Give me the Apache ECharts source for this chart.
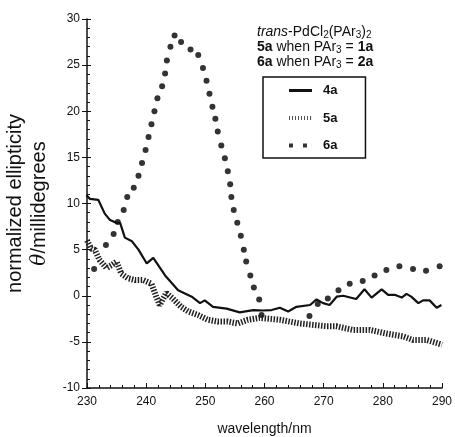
<!DOCTYPE html>
<html>
<head>
<meta charset="utf-8">
<script src="https://cdn.jsdelivr.net/npm/echarts@6/dist/echarts.min.js"></script>
<style>
html,body{margin:0;padding:0;background:#fff;}
#chart{width:455px;height:437px;}
</style>
</head>
<body>
<div id="chart"></div>
<script>
// ---- data ----
const xTicks = [230, 240, 250, 260, 270, 280, 290];
const yTicks = [-10, -5, 0, 5, 10, 15, 20, 25, 30];

const wl4a = [229.9, 230.5, 231.9, 233.0, 233.9, 235.0, 235.6, 236.4, 237.6, 238.7, 240.1, 241.2, 243.2, 245.4, 247.7, 249.1, 249.9, 251.3, 253.6, 255.8, 258.1, 259.8, 261.2, 262.6, 264.0, 265.4, 267.7, 268.8, 269.9, 271.0, 272.2, 273.3, 275.5, 276.9, 278.1, 279.8, 280.9, 282.0, 283.2, 284.0, 284.8, 286.0, 286.8, 287.9, 289.1, 289.9];
const val4a = [10.9, 10.5, 10.4, 8.9, 8.2, 7.9, 7.9, 6.3, 5.9, 5.0, 3.5, 4.1, 2.2, 0.6, -0.1, -0.8, -0.5, -1.2, -1.4, -1.8, -1.55, -1.6, -1.55, -1.3, -1.7, -1.2, -1.0, -0.4, -0.8, -1.0, -0.1, 0.0, -0.35, 0.7, -0.2, 0.7, 0.1, 0.1, -0.2, 0.2, -0.1, -0.8, -0.5, -0.5, -1.3, -1.0];

const wl5a = [230.0, 230.7, 231.3, 232.1, 233.3, 234.1, 235.0, 235.8, 236.9, 238.1, 239.5, 240.9, 241.7, 242.3, 243.4, 244.5, 245.9, 247.1, 248.8, 250.4, 252.1, 253.8, 255.5, 257.2, 259.2, 262.6, 265.9, 270.4, 272.1, 274.9, 277.8, 280.6, 283.4, 285.1, 287.4, 289.0, 290.0];
const val5a = [6.0, 5.1, 5.0, 3.9, 3.0, 3.3, 3.7, 2.4, 1.9, 1.7, 1.7, 1.3, -0.1, -1.0, 0.3, -0.3, -1.2, -1.7, -2.1, -2.6, -2.8, -2.8, -3.0, -2.6, -2.4, -2.6, -3.0, -3.3, -3.3, -3.7, -3.7, -4.1, -4.4, -4.8, -4.8, -5.1, -5.3];

const wl6a = [231.2, 233.2, 234.5, 235.2, 236.2, 236.8, 237.9, 238.7, 239.3, 239.9, 240.4, 240.9, 241.4, 241.9, 242.7, 243.2, 243.5, 244.1, 244.8, 245.9, 247.5, 248.8, 249.6, 250.2, 250.7, 251.2, 251.7, 252.1, 252.7, 253.3, 253.8, 254.2, 254.4, 254.8, 255.4, 256.0, 256.5, 256.9, 257.6, 258.2, 259.1, 259.5, 267.6, 269.0, 270.7, 272.5, 274.4, 276.6, 278.6, 280.6, 282.8, 285.1, 287.3, 289.6];
const val6a = [2.9, 5.5, 6.7, 8.0, 9.3, 10.7, 11.7, 13.0, 14.4, 15.8, 17.2, 18.6, 20.0, 21.4, 22.7, 24.1, 25.5, 27.0, 28.2, 27.5, 26.7, 26.1, 24.7, 23.3, 21.9, 20.5, 19.2, 17.8, 16.3, 14.9, 13.5, 12.1, 10.7, 9.3, 7.9, 6.5, 5.0, 3.7, 2.2, 0.9, -0.4, -2.1, -2.2, -0.9, -0.3, 0.6, 1.3, 1.6, 2.2, 2.8, 3.2, 2.9, 2.7, 3.2];

const pairs = (xs, ys) => xs.map((x, i) => [x, ys[i]]);

const FONT = '"Liberation Sans", Arial, sans-serif';
const chart = echarts.init(document.getElementById('chart'), null, {renderer: 'canvas'});

const option = {
  backgroundColor: '#fff',
  animation: false,
  grid: {left: 87, right: 13, top: 19, bottom: 49, containLabel: false, outerBoundsMode: 'none'},
  xAxis: {
    type: 'value', min: xTicks[0], max: xTicks[xTicks.length - 1], interval: 10,
    name: 'wavelength/nm', nameLocation: 'middle', nameGap: 34,
    nameTextStyle: {fontFamily: FONT, fontSize: 14, color: '#111'},
    axisLine: {onZero: false, lineStyle: {color: '#111', width: 1.5}},
    axisTick: {inside: true, length: 5, lineStyle: {color: '#111'}},
    minorTick: {show: true, splitNumber: 5, length: 3, lineStyle: {color: '#111'}},
    axisLabel: {fontFamily: FONT, fontSize: 12, color: '#111', margin: 8},
    splitLine: {show: false}
  },
  yAxis: [{
    type: 'value', min: yTicks[0], max: yTicks[yTicks.length - 1], interval: 5,
    name: '{a|normalized ellipticity}\n{i|θ}{a|/millidegrees}',
    nameLocation: 'middle', nameGap: 34, nameRotate: 90,
    nameTextStyle: {
      fontFamily: FONT, fontSize: 20, color: '#111', lineHeight: 24,
      rich: {
        a: {fontFamily: FONT, fontSize: 20, color: '#111', lineHeight: 24},
        i: {fontFamily: '"DejaVu Serif", serif', fontStyle: 'italic', fontSize: 20, color: '#111', lineHeight: 24}
      }
    },
    axisLine: {onZero: false, lineStyle: {color: '#111', width: 1.5}},
    axisTick: {inside: false, length: 5, lineStyle: {color: '#111'}},
    axisLabel: {fontFamily: FONT, fontSize: 12, color: '#111', margin: 7},
    splitLine: {show: false}
  }, {
    type: 'value', min: yTicks[0], max: yTicks[yTicks.length - 1], interval: 5, position: 'left',
    axisLine: {show: false},
    axisTick: {inside: true, length: 4, lineStyle: {color: '#111'}},
    minorTick: {show: true, splitNumber: 5, length: 3, lineStyle: {color: '#111'}},
    axisLabel: {show: false},
    splitLine: {show: false}
  }],
  legend: {
    left: 263, top: 77, orient: 'vertical', selectedMode: false,
    borderColor: '#111', borderWidth: 1.5, borderRadius: 0,
    padding: [7, 28, 6, 26], itemGap: 14.5, itemWidth: 23, itemHeight: 4,
    textStyle: {fontFamily: FONT, fontSize: 13, fontWeight: 'bold', color: '#111', padding: [0, 0, 0, 6]},
    data: [
      {name: '4a', icon: 'path://M0,0h23v3h-23z', itemStyle: {color: '#111'}},
      {name: '5a', icon: 'path://M0,0h1v4h-1zM3,0h1v4h-1zM6,0h1v4h-1zM9,0h1v4h-1zM12,0h1v4h-1zM15,0h1v4h-1zM18,0h1v4h-1zM21,0h1v4h-1zM22.9,0h0.1v4h-0.1z', itemStyle: {color: '#555'}},
      {name: '6a', icon: 'path://M0,0h4v4h-4zM14,0h4v4h-4zM22.95,0h0.05v4h-0.05z', itemStyle: {color: '#000'}}
    ]
  },
  graphic: [{
    type: 'text', left: 257, top: 24,
    style: {
      text: '{i|trans}{n|-PdCl}{s|2}{n|(PAr}{s|3}{n|)}{s|2}\n{b|5a}{n| when PAr}{s|3}{n| = }{b|1a}\n{b|6a}{n| when PAr}{s|3}{n| = }{b|2a}',
      fill: '#111', font: '14px ' + FONT, lineHeight: 15,
      rich: {
        n: {fontFamily: FONT, fontSize: 14, fill: '#111', lineHeight: 15},
        i: {fontFamily: FONT, fontSize: 14, fontStyle: 'italic', fill: '#111', lineHeight: 15},
        b: {fontFamily: FONT, fontSize: 14, fontWeight: 'bold', fill: '#111', lineHeight: 15},
        s: {fontFamily: FONT, fontSize: 10, fill: '#111', lineHeight: 15, padding: [6, 0, 0, 0]}
      }
    }
  }],
  series: [{
    name: '4a', type: 'line', data: pairs(wl4a, val4a),
    showSymbol: false, symbol: 'none',
    lineStyle: {color: '#111', width: 2.2},
    itemStyle: {color: '#111'}
  }, {
    name: '5a', type: 'line', data: pairs(wl5a, val5a),
    showSymbol: false, symbol: 'none',
    lineStyle: {color: '#222', width: 6, type: [1.5, 1.5], cap: 'butt'},
    itemStyle: {color: '#222'}
  }, {
    name: '6a', type: 'scatter', data: pairs(wl6a, val6a),
    symbol: 'circle', symbolSize: 6,
    itemStyle: {color: '#000'}
  }]
};
chart.setOption(option);
</script>
</body>
</html>
